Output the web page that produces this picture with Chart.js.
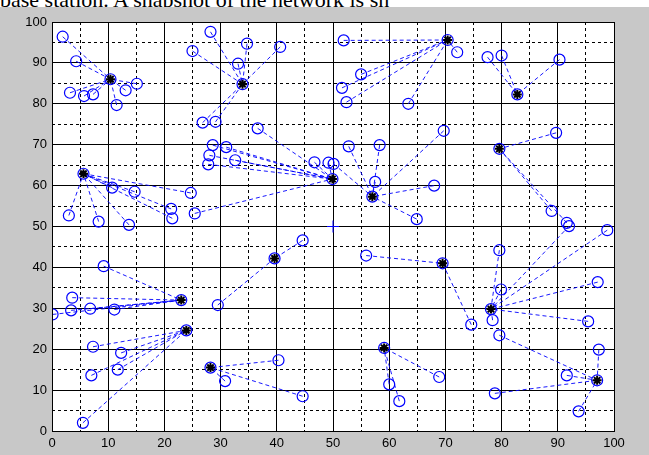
<!DOCTYPE html>
<html>
<head>
<meta charset="utf-8">
<script src="https://cdn.jsdelivr.net/npm/chart.js@4.4.1/dist/chart.umd.min.js"></script>
<style>
  body { margin: 0; background: #fff; width: 649px; height: 455px; overflow: hidden; }
  #cap { position: absolute; left: 0; top: 0; width: 649px; height: 7px; overflow: hidden; }
  #cap span { position: absolute; left: 0; top: -11px; font-family: "Liberation Serif", serif;
              font-size: 22px; line-height: 22px; white-space: nowrap; color: #000; }
  #wrap { position: absolute; left: 0; top: 7px; width: 649px; height: 448px; }
</style>
</head>
<body>
<div id="cap"><span>base station. A snapshot of the network is sh</span></div>
<div id="wrap"><canvas id="netChart"></canvas></div>
<script>
// tick labels on both axes
var tickLabels = ['0', '10', '20', '30', '40', '50', '60', '70', '80', '90', '100'];

// cluster heads (black stars)
var headX = [10.4, 33.9, 70.4, 82.8, 5.6, 49.9, 57.0, 79.6, 39.6, 69.5, 23.0, 23.9, 78.1, 28.2, 59.1, 97.0];
var headY = [86.0, 84.8, 95.6, 82.3, 62.9, 61.6, 57.3, 69.0, 42.2, 41.0, 32.0, 24.6, 29.8, 15.5, 20.3, 12.4];

// ordinary nodes and the head each one talks to
var nodeX = [1.9, 4.3, 3.2, 5.7, 7.3, 11.5, 13.1, 15.1,
             28.2, 25.0, 34.7, 40.6, 33.1, 26.8, 29.1,
             51.9, 55.0, 51.6, 52.4, 63.4, 72.1,
             77.5, 80.0, 90.3,
             10.7, 14.7, 24.7, 3.0, 8.3, 13.7, 21.2, 21.4,
             28.6, 31.0, 28.0, 27.8, 32.6, 36.6, 46.7, 49.2, 25.4,
             50.1, 52.8, 58.3, 57.5, 69.7, 68.0, 64.9,
             89.7, 88.9, 91.6,
             44.6, 29.5,
             55.9, 74.6,
             9.2, 3.6, 3.4, 6.8, 0.1, 11.1,
             7.3, 12.3, 7.0, 11.7, 5.5,
             79.6, 79.9, 97.1, 98.8, 92.0, 78.4, 95.4,
             30.8, 40.3, 44.6,
             60.0, 61.8, 68.9,
             79.6, 78.8, 97.3, 91.6, 93.7];
var nodeY = [96.4, 90.4, 82.7, 81.9, 82.3, 79.7, 83.3, 84.9,
             97.6, 92.9, 94.7, 93.9, 89.8, 75.4, 75.6,
             95.5, 87.2, 83.9, 80.4, 80.0, 92.6,
             91.4, 91.8, 90.8,
             59.5, 58.5, 58.2, 52.7, 51.2, 50.4, 54.3, 52.0,
             69.9, 69.4, 67.4, 65.2, 66.2, 74.0, 65.7, 65.6, 53.2,
             65.3, 69.6, 69.9, 60.9, 73.4, 60.0, 51.8,
             72.9, 53.8, 50.9,
             46.6, 30.8,
             42.9, 26.0,
             40.3, 32.6, 29.5, 29.9, 28.5, 29.7,
             20.6, 19.1, 13.6, 15.0, 2.0,
             44.2, 34.6, 36.4, 49.1, 50.1, 27.1, 26.8,
             12.2, 17.3, 8.5,
             11.4, 7.3, 13.2,
             23.4, 9.2, 19.9, 13.6, 4.8];
var nodeHead = [0, 0, 0, 0, 0, 0, 0, 0,
                1, 1, 1, 1, 1, 1, 1,
                2, 2, 2, 2, 2, 2,
                3, 3, 3,
                4, 4, 4, 4, 4, 4, 4, 4,
                5, 5, 5, 5, 5, 5, 5, 5, 5,
                6, 6, 6, 6, 6, 6, 6,
                7, 7, 7,
                8, 8,
                9, 9,
                10, 10, 10, 10, 10, 10,
                11, 11, 11, 11, 11,
                12, 12, 12, 12, 12, 12, 12,
                13, 13, 13,
                14, 14, 14,
                15, 15, 15, 15, 15];

// base station
var baseX = [50];
var baseY = [50];

function pts(xs, ys) {
    return xs.map(function (x, i) { return {x: x, y: ys[i]}; });
}

var links = [];
for (var i = 0; i < nodeX.length; i++) {
    var h = nodeHead[i];
    links.push({x: nodeX[i], y: nodeY[i]});
    links.push({x: headX[h], y: headY[h]});
    links.push({x: headX[h], y: null});
}

var frame = {
    id: 'frame',
    beforeDraw: function (chart) {
        var c = chart.ctx, a = chart.chartArea;
        c.save();
        c.fillStyle = '#c8c8c8';
        c.fillRect(0, 0, chart.width, chart.height);
        c.fillStyle = '#fff';
        c.fillRect(a.left, a.top, a.right - a.left, a.bottom - a.top);
        c.restore();
    },
    afterDraw: function (chart) {
        var c = chart.ctx, a = chart.chartArea;
        c.save();
        c.strokeStyle = '#000';
        c.lineWidth = 1;
        c.strokeRect(Math.round(a.left) + 0.5, Math.round(a.top) + 0.5,
                     Math.round(a.right - a.left), Math.round(a.bottom - a.top));
        c.restore();
    }
};

var tickFont = {family: '"Liberation Sans", Arial, sans-serif', size: 13};
var minorColor = function (ctx) {
    return ctx.tick && ctx.tick.value % 10 === 0 ? 'rgba(0,0,0,0)' : '#000';
};

var ctx = document.getElementById('netChart').getContext('2d');
var netChart = new Chart(ctx, {
    type: 'scatter',
    data: {
        datasets: [{
            data: links,
            showLine: true,
            spanGaps: false,
            borderColor: 'rgba(0,0,255,0.9)',
            borderWidth: 1,
            borderDash: [4, 3],
            pointRadius: 0,
            order: 1
        }, {
            data: pts(nodeX, nodeY),
            pointStyle: 'circle',
            pointRadius: 5.5,
            borderColor: '#0000ff',
            backgroundColor: 'rgba(0,0,0,0)',
            borderWidth: 1.2,
            order: 2
        }, {
            data: pts(headX, headY),
            pointStyle: 'circle',
            pointRadius: 5.5,
            borderColor: '#0000ff',
            backgroundColor: 'rgba(0,0,0,0)',
            borderWidth: 1.2,
            order: 3
        }, {
            data: pts(headX, headY),
            pointStyle: 'star',
            pointRadius: 4.5,
            borderColor: '#000',
            borderWidth: 2,
            order: 0
        }, {
            data: pts(baseX, baseY),
            pointStyle: 'cross',
            pointRadius: 6,
            borderColor: '#0000ff',
            borderWidth: 1,
            order: 0
        }]
    },
    options: {
        responsive: true,
        maintainAspectRatio: false,
        animation: false,
        events: [],
        layout: {padding: {left: 0, top: 15, right: 35, bottom: 0}},
        plugins: {legend: {display: false}, tooltip: {enabled: false}},
        scales: {
            x: {
                type: 'linear', min: 0, max: 100, position: 'bottom',
                afterFit: function (s) { s.height = 24; },
                ticks: {
                    stepSize: 10, autoSkip: false, maxRotation: 0, padding: 5,
                    color: '#000', font: tickFont,
                    callback: function (v, i) { return tickLabels[i]; }
                },
                grid: {color: '#000', lineWidth: 1, drawTicks: false},
                border: {display: false}
            },
            x2: {
                type: 'linear', min: 0, max: 100, position: 'bottom',
                afterFit: function (s) { s.height = 0; },
                ticks: {stepSize: 5, display: false},
                grid: {color: minorColor, lineWidth: 1, drawTicks: false},
                border: {display: false, dash: [3, 3]}
            },
            y: {
                type: 'linear', min: 0, max: 100, position: 'left',
                afterFit: function (s) { s.width = 52; },
                ticks: {
                    stepSize: 10, autoSkip: false, padding: 5,
                    color: '#000', font: tickFont,
                    callback: function (v, i) { return tickLabels[i]; }
                },
                grid: {color: '#000', lineWidth: 1, drawTicks: false},
                border: {display: false}
            },
            y2: {
                type: 'linear', min: 0, max: 100, position: 'left',
                afterFit: function (s) { s.width = 0; },
                ticks: {stepSize: 5, display: false},
                grid: {color: minorColor, lineWidth: 1, drawTicks: false},
                border: {display: false, dash: [3, 3]}
            }
        }
    },
    plugins: [frame]
});
</script>
</body>
</html>
